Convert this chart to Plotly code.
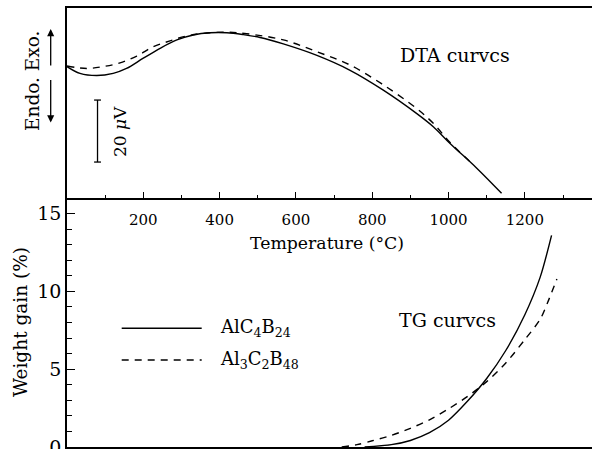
import plotly.graph_objects as go

# ---- data ----
# DTA curves (arbitrary µV offset)
dta_T_solid = [0, 34, 78, 121, 156, 200, 244, 288, 331, 375, 419, 462, 506, 567, 655, 742, 829, 916, 960, 1004, 1074, 1139]
dta_solid = [42.4, 40.2, 39.5, 40.2, 41.8, 45.1, 48.3, 51.0, 52.6, 53.3, 53.3, 52.7, 51.8, 49.7, 46.0, 41.2, 34.8, 27.3, 23.0, 17.6, 9.6, 1.5]
dta_T_dash = [0, 52, 95, 139, 183, 226, 270, 314, 357, 419, 471, 567, 655, 742, 829, 916, 960, 1004, 1060]
dta_dash = [42.6, 41.8, 42.4, 43.6, 45.8, 48.8, 50.7, 52.3, 53.1, 53.5, 53.0, 51.0, 47.2, 42.9, 36.5, 28.9, 24.1, 17.9, 11.3]

# TG curves (weight gain %)
tg_T_solid = [780, 850, 900, 950, 1000, 1050, 1100, 1150, 1200, 1240, 1270]
tg_solid = [0, 0.15, 0.42, 0.92, 1.72, 2.95, 4.4, 6.2, 8.5, 10.9, 13.6]
tg_T_dash = [720, 760, 800, 850, 900, 950, 1000, 1050, 1100, 1150, 1200, 1240, 1260, 1284]
tg_dash = [0, 0.15, 0.4, 0.75, 1.2, 1.75, 2.45, 3.25, 4.2, 5.4, 6.9, 8.2, 9.3, 10.8]

x_ticks = [200, 400, 600, 800, 1000, 1200]
y_ticks = [0, 5, 10, 15]
labels = ["AlC<sub>4</sub>B<sub>24</sub>", "Al<sub>3</sub>C<sub>2</sub>B<sub>48</sub>"]
scale_bar_T = 80
scale_bar_base = 11.6
scale_bar_uV = 20

FONT = "DejaVu Serif"
DASH = "7px,6px"
LW = 1.4

fig = go.Figure()

# DTA
fig.add_trace(go.Scatter(x=dta_T_solid, y=dta_solid, mode="lines", xaxis="x", yaxis="y",
                         line=dict(color="black", width=LW, shape="spline"), showlegend=False))
fig.add_trace(go.Scatter(x=dta_T_dash, y=dta_dash, mode="lines", xaxis="x", yaxis="y",
                         line=dict(color="black", width=LW, dash=DASH, shape="spline"), showlegend=False))
# scale bar
sb_top = scale_bar_base + scale_bar_uV
fig.add_trace(go.Scatter(
    x=[scale_bar_T, scale_bar_T, None, scale_bar_T - 9, scale_bar_T + 9, None, scale_bar_T - 9, scale_bar_T + 9],
    y=[scale_bar_base, sb_top, None, scale_bar_base, scale_bar_base, None, sb_top, sb_top],
    mode="lines", xaxis="x", yaxis="y", line=dict(color="black", width=1.3), showlegend=False))

# TG
fig.add_trace(go.Scatter(x=tg_T_solid, y=tg_solid, mode="lines", xaxis="x2", yaxis="y2",
                         line=dict(color="black", width=LW, shape="spline", smoothing=0.8), showlegend=False))
fig.add_trace(go.Scatter(x=tg_T_dash, y=tg_dash, mode="lines", xaxis="x2", yaxis="y2",
                         line=dict(color="black", width=LW, dash=DASH, shape="spline", smoothing=0.8), showlegend=False))

split = 249 / 439
xr = [0, 1376]

fig.update_layout(
    width=592, height=449,
    margin=dict(l=67, r=0, t=8, b=2, autoexpand=False),
    paper_bgcolor="white", plot_bgcolor="white",
    font=dict(family=FONT, color="black"),
    xaxis=dict(domain=[0, 1], anchor="y", range=xr, showgrid=False, zeroline=False, automargin=False,
               showline=True, linecolor="black", linewidth=1.5, mirror=True,
               ticks="inside", ticklen=6, tickwidth=1.2, tickcolor="black",
               tickvals=x_ticks, tickfont=dict(size=15, family=FONT), ticklabelstandoff=7,
               minor=dict(tickvals=[100, 300, 500, 700, 900, 1100, 1300], ticks="inside", ticklen=3,
                          tickcolor="black", tickwidth=1)),
    yaxis=dict(domain=[split, 1], anchor="x", range=[0, 61.3], showgrid=False, zeroline=False, automargin=False,
               showline=True, linecolor="black", linewidth=1.5, showticklabels=False, ticks=""),
    xaxis2=dict(domain=[0, 1], anchor="y2", range=xr, showgrid=False, zeroline=False, automargin=False,
                showline=True, linecolor="black", linewidth=2, showticklabels=False, ticks=""),
    yaxis2=dict(domain=[0, split], anchor="x2", range=[0, 16], showgrid=False, zeroline=False, automargin=False,
                showline=True, linecolor="black", linewidth=1.5,
                ticks="inside", ticklen=8, tickwidth=1.2, tickcolor="black",
                tickvals=y_ticks, tickfont=dict(size=19, family=FONT), ticklabeloverflow="allow",
                minor=dict(dtick=1, ticks="inside", ticklen=5, tickcolor="black", tickwidth=1)),
)

def px2paper(px, py):
    return (px - 67) / 525, (447 - py) / 439

anns = []
def txt(text, px, py, size, angle=0, xanchor="center"):
    xp, yp = px2paper(px, py)
    anns.append(dict(text=text, x=xp, y=yp, xref="paper", yref="paper", showarrow=False,
                     textangle=angle, xanchor=xanchor, yanchor="middle",
                     font=dict(size=size, family=FONT, color="black")))

txt("DTA curvcs", 455, 55, 19)
txt("TG curvcs", 447, 320, 19)
txt("Temperature (°C)", 327, 243, 17.3)
txt("Weight gain (%)", 20, 322, 18.5, -90)
txt("Endo. Exo.", 33, 81, 18.5, -90)
txt("20 <i>μ</i>V", 120, 132, 17, -90)
txt(labels[0], 218, 328, 18, 0, "left")
txt(labels[1], 218, 360, 18, 0, "left")

# arrows
for head_y, ay in [(29, 38), (122.5, -44)]:
    xp, yp = px2paper(50.7, head_y)
    anns.append(dict(text="", x=xp, y=yp, xref="paper", yref="paper", showarrow=True,
                     ax=0, ay=ay, axref="pixel", ayref="pixel", arrowhead=2, arrowsize=1.1,
                     arrowwidth=1.3, arrowcolor="black", standoff=0, startstandoff=0))
fig.update_layout(annotations=anns)

# legend samples
shapes = []
for py, dash in [(328.3, "solid"), (360, DASH)]:
    x0, y0 = px2paper(121.7, py)
    x1, _ = px2paper(201.7, py)
    shapes.append(dict(type="line", xref="paper", yref="paper", x0=x0, x1=x1, y0=y0, y1=y0,
                       line=dict(color="black", width=LW, dash=dash)))
fig.update_layout(shapes=shapes)

fig.write_html("out.html")
